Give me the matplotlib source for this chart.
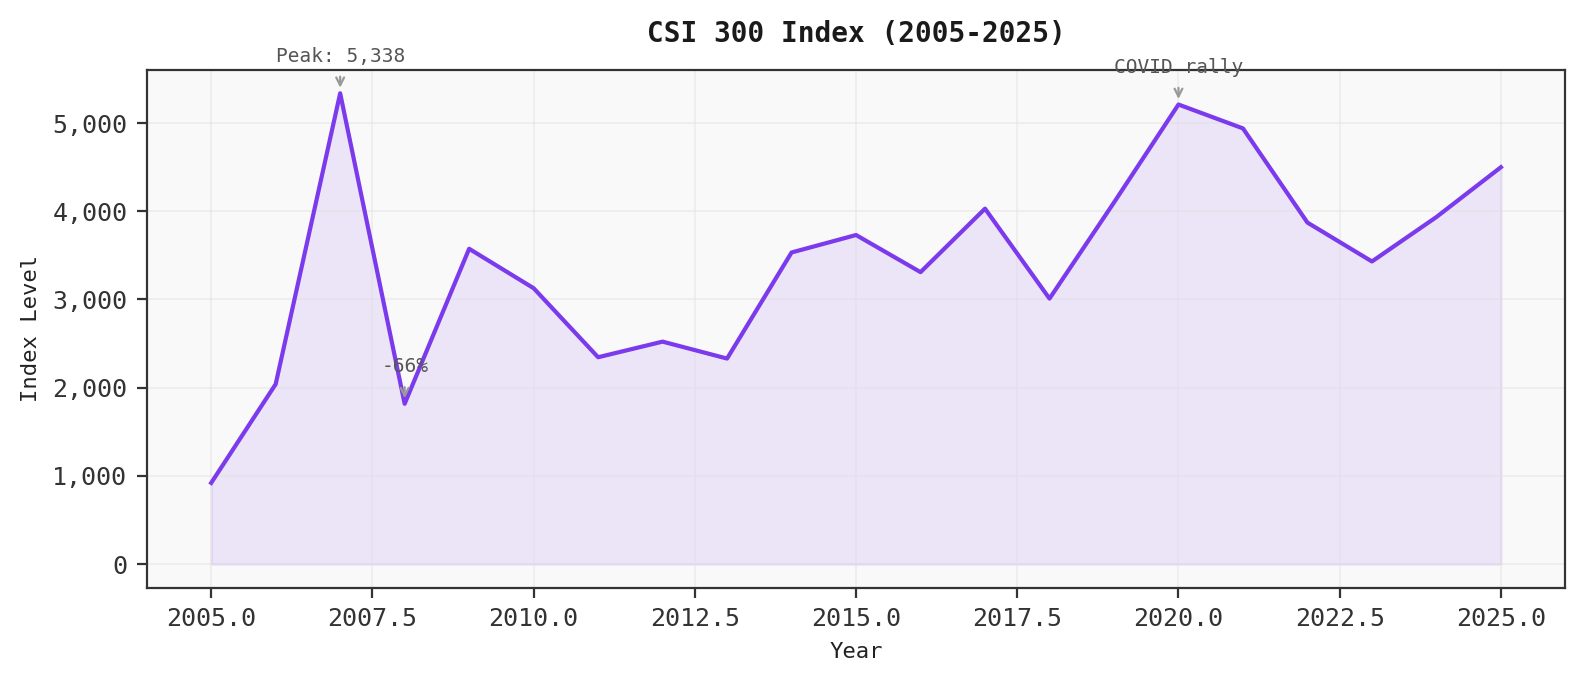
import matplotlib
matplotlib.use('Agg')
import matplotlib.pyplot as plt
from matplotlib.ticker import FuncFormatter

years = [2005, 2006, 2007, 2008, 2009, 2010, 2011, 2012, 2013, 2014, 2015,
         2016, 2017, 2018, 2019, 2020, 2021, 2022, 2023, 2024, 2025]
index_level = [920, 2040, 5338, 1817, 3575, 3128, 2345, 2522, 2330, 3533, 3731,
               3310, 4030, 3010, 4100, 5211, 4940, 3872, 3431, 3935, 4500]

notes = [(2007, 5338, 'Peak: 5,338'), (2008, 1817, '-66%'), (2020, 5211, 'COVID rally')]

plt.rcParams['font.family'] = 'DejaVu Sans Mono'
color = '#7c3aed'

fig, ax = plt.subplots(figsize=(7.93, 3.42), dpi=200)
fig.subplots_adjust(left=0.0925, right=0.987, top=0.898, bottom=0.141)
ax.set_facecolor('#f9f9f9')
ax.fill_between(years, index_level, color=color, alpha=0.1)
ax.plot(years, index_level, color=color, linewidth=1.5)

for x, y, txt in notes:
    ax.annotate(txt, xy=(x, y), xytext=(0, 10), textcoords='offset points',
                ha='center', va='bottom', fontsize=7, color='#555555',
                arrowprops=dict(arrowstyle='->', color='#999999', lw=0.8))

ax.set_title('CSI 300 Index (2005-2025)', fontsize=10, fontweight='bold',
             color='#1a1a1a', pad=10)
ax.set_xlabel('Year', fontsize=8, color='#222222')
ax.set_ylabel('Index Level', fontsize=8, color='#222222', labelpad=4)
ax.yaxis.set_major_formatter(FuncFormatter(lambda v, p: f'{int(v):,}'))
ax.tick_params(labelsize=9, colors='#333333')
ax.grid(True, color='#e0e0e0', alpha=0.5, linewidth=0.6)
for s in ax.spines.values():
    s.set_color('#333333')

plt.savefig('out.png', dpi=200)
